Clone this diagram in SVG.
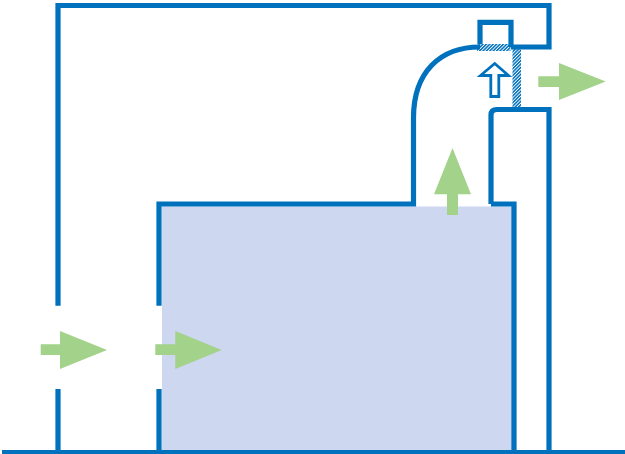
<svg xmlns="http://www.w3.org/2000/svg" width="625" height="454" viewBox="0 0 625 454">
<style>
.w{fill:none;stroke:#0071bc;stroke-width:5.2;stroke-linejoin:miter}
.g{fill:#a3d28a}
.h{fill:url(#hatch)}
</style>
<defs>
<pattern id="hatch" width="2.400" height="2.400" patternUnits="userSpaceOnUse" patternTransform="rotate(-45)">
<rect width="2.400" height="2.400" fill="#fff"/>
<rect width="2.400" height="1.500" fill="#0071bc"/>
</pattern>
</defs>
<rect width="625" height="454" fill="#fff"/>
<g id="room">
<rect x="162" y="206.500" width="350" height="244" fill="#cdd7ef"/>
</g>
<g id="damper">
<rect class="h" x="477" y="44" width="33.500" height="7"/>
<rect class="h" x="512.500" y="49" width="8.500" height="59"/>
</g>
<g id="connectors">
<path class="w" d="M58 305.700V5.500H549V47H511"/>
<path class="w" d="M58 389V452"/>
<path class="w" d="M159 305.700V204H413.500V118C413.500 72 440 47 480 47"/>
<path class="w" d="M159 389V452"/>
<path class="w" d="M491 204V115Q491 109.500 497 109.500H549V452"/>
<path class="w" d="M491 204H514V452"/>
<path d="M2 452H625" fill="none" stroke="#0071bc" stroke-width="4"/>
</g>
<g id="actuator">
<path class="w" d="M480 44V22.300H511V47"/>
</g>
<g id="flow-small">
<path d="M494.700 63.500L508.500 75.500H498.800V96.500H490.800V75.500H480.500Z" fill="#fff" stroke="#0071bc" stroke-width="2.800"/>
</g>
<g id="arrow-in-1"><path class="g" d="M40.700 344.300H60V331L107 350L60 369V355H40.700Z"/></g>
<g id="arrow-in-2"><path class="g" d="M155.300 344.300H175.300V331L221.700 350L175.300 369V355H155.300Z"/></g>
<g id="arrow-up"><path class="g" d="M452.500 148L471 194.300H458V215H447V194.300H434Z"/></g>
<g id="arrow-out"><path class="g" d="M538.300 76.300H559V63L605.700 81.500L559 100V87H538.300Z"/></g>
</svg>
